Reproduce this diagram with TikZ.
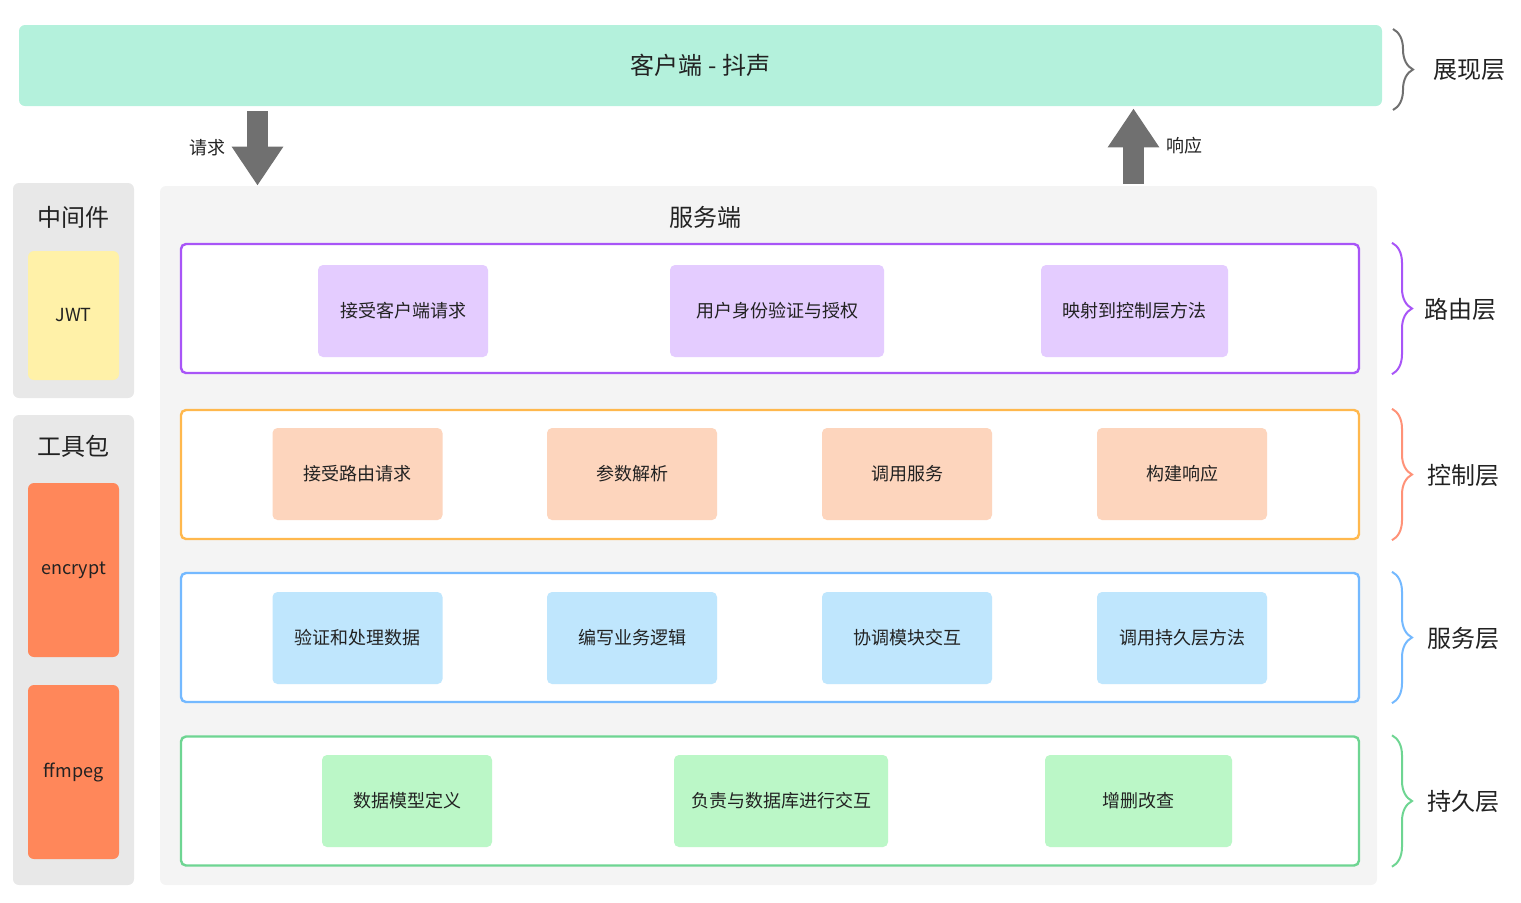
\documentclass[tikz,border=0pt]{standalone}
\usepackage{fontspec}
\setmainfont{Noto Sans CJK SC}
\usetikzlibrary{arrows.meta,decorations.pathreplacing}
\definecolor{clientGreen}{RGB}{180,241,220}
\definecolor{arrowGray}{RGB}{112,112,112}
\definecolor{sidePanel}{RGB}{232,232,232}
\definecolor{serverPanel}{RGB}{244,244,244}
\definecolor{jwtYellow}{RGB}{255,241,168}
\definecolor{toolOrange}{RGB}{255,135,90}
\definecolor{routeLine}{RGB}{168,85,247}
\definecolor{routeFill}{RGB}{228,204,255}
\definecolor{ctrlLine}{RGB}{255,184,77}
\definecolor{ctrlFill}{RGB}{253,213,189}
\definecolor{ctrlBrace}{RGB}{255,146,120}
\definecolor{servLine}{RGB}{116,185,255}
\definecolor{servFill}{RGB}{191,230,253}
\definecolor{dataLine}{RGB}{110,213,146}
\definecolor{dataFill}{RGB}{187,247,199}
\definecolor{textDark}{RGB}{34,34,34}

\begin{document}
\begin{tikzpicture}[x=0.5pt,y=-0.5pt,
    panel/.style={rounded corners=3pt, inner sep=0pt, text=textDark},
    layer/.style={draw=#1, line width=1.2pt, fill=white, rounded corners=2.5pt,
                  minimum width=589pt, minimum height=64.5pt, inner sep=0pt},
    job/.style={fill=#1, rounded corners=2.5pt, minimum height=46pt, inner sep=0pt,
                font=\fontsize{9}{11}\selectfont, text=textDark},
    tag/.style={font=\fontsize{12}{14}\selectfont, text=textDark},
    small/.style={font=\fontsize{9}{11}\selectfont, text=textDark},
    layerbrace/.style={draw=#1, line width=1pt, decorate, decoration={brace, amplitude=10pt}},
    bigarrow/.style={line width=10.5pt, draw=arrowGray, -{Triangle[width=24.5pt,length=19.5pt]}}]
  \useasboundingbox (0,0) rectangle (1521,902);

  % client bar
  \node[panel, tag, fill=clientGreen, minimum width=681.5pt, minimum height=40.5pt] (client) at (700.5,65.5) {客户端 - 抖声};

  % side panels
  \node[panel, fill=sidePanel, minimum width=60.5pt, minimum height=107.5pt] (middle) at (73.5,290.5) {};
  \node[tag] (middletitle) at (73.5,217) {中间件};
  \node[panel, small, fill=jwtYellow, minimum width=45.5pt, minimum height=64.5pt] (jwt) at (73.5,315.5) {JWT};
  \node[panel, fill=sidePanel, minimum width=60.5pt, minimum height=235pt] (tools) at (73.5,650) {};
  \node[tag] (toolstitle) at (73.5,446) {工具包};
  \node[panel, small, fill=toolOrange, minimum width=45.5pt, minimum height=87pt] (encrypt) at (73.5,570) {encrypt};
  \node[panel, small, fill=toolOrange, minimum width=45.5pt, minimum height=87pt] (ffmpeg) at (73.5,772) {ffmpeg};

  % server panel
  \node[panel, fill=serverPanel, minimum width=608.5pt, minimum height=349.5pt] (server) at (768.5,535.5) {};
  \node[tag] (servertitle) at (705,217) {服务端};

  % routing layer
  \node[layer=routeLine] (routing) at (770,308.5) {};
  \node[job=routeFill, minimum width=85pt] (r1) at (403,311) {接受客户端请求};
  \node[job=routeFill, minimum width=107pt] (r2) at (777,311) {用户身份验证与授权};
  \node[job=routeFill, minimum width=93.5pt] (r3) at (1134.5,311) {映射到控制层方法};

  % control layer
  \node[layer=ctrlLine] (control) at (770,474.5) {};
  \node[job=ctrlFill, minimum width=85pt] (c1) at (357.5,474) {接受路由请求};
  \node[job=ctrlFill, minimum width=85pt] (c2) at (632,474) {参数解析};
  \node[job=ctrlFill, minimum width=85pt] (c3) at (907,474) {调用服务};
  \node[job=ctrlFill, minimum width=85pt] (c4) at (1182,474) {构建响应};

  % service layer
  \node[layer=servLine] (service) at (770,637.5) {};
  \node[job=servFill, minimum width=85pt] (s1) at (357.5,638) {验证和处理数据};
  \node[job=servFill, minimum width=85pt] (s2) at (632,638) {编写业务逻辑};
  \node[job=servFill, minimum width=85pt] (s3) at (907,638) {协调模块交互};
  \node[job=servFill, minimum width=85pt] (s4) at (1182,638) {调用持久层方法};

  % persistence layer
  \node[layer=dataLine] (persist) at (770,801) {};
  \node[job=dataFill, minimum width=85pt] (p1) at (407,801) {数据模型定义};
  \node[job=dataFill, minimum width=107pt] (p2) at (781,801) {负责与数据库进行交互};
  \node[job=dataFill, minimum width=93.5pt] (p3) at (1138.5,801) {增删改查};

  % request / response arrows
  \coordinate (reqx) at (257.5,0);
  \coordinate (resx) at (1133.5,0);
  \draw[bigarrow, shorten <=2.5pt] (client.south -| reqx) -- (server.north -| reqx);
  \draw[bigarrow, shorten >=1pt, shorten <=1pt] (server.north -| resx) -- (client.south -| resx);
  \node[small] (reqlabel) at (207,148) {请求};
  \node[small] (reslabel) at (1184,146) {响应};

  % layer braces
  \coordinate (bx) at (1392,0);
  \draw[layerbrace=arrowGray] (1393,29) -- (1393,110);
  \draw[layerbrace=routeLine] (routing.north east -| bx) -- (routing.south east -| bx);
  \draw[layerbrace=ctrlBrace] (control.north east -| bx) -- (control.south east -| bx);
  \draw[layerbrace=servLine] (service.north east -| bx) -- (service.south east -| bx);
  \draw[layerbrace=dataLine] (persist.north east -| bx) -- (persist.south east -| bx);
  \node[tag, anchor=west] (showlbl) at (1426,70) {展现层};
  \node[tag, anchor=west] (routelbl) at (1417,309) {路由层};
  \node[tag, anchor=west] (ctrllbl) at (1420,475) {控制层};
  \node[tag, anchor=west] (servlbl) at (1420,638) {服务层};
  \node[tag, anchor=west] (datalbl) at (1420,801) {持久层};
\end{tikzpicture}
\end{document}
